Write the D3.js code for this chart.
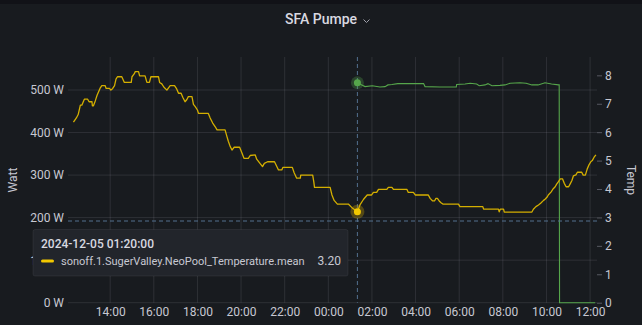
<!DOCTYPE html>
<html>
<head>
<meta charset="utf-8">
<script src="https://cdn.jsdelivr.net/npm/d3@7"></script>
<style>
  html, body { margin: 0; padding: 0; background: #111217; }
  svg { display: block; font-family: Roboto, Inter, "Noto Sans", sans-serif; }
</style>
</head>
<body>
<svg id="chart" width="642" height="325"></svg>
<script>
// Pool temperature (°C, right axis), sampled vertices, 2024-12-04 12:19 → 2024-12-05 12:16
const tempTimes = [
  "12:19","12:27","12:32","12:38","12:42","12:49","12:58","13:02","13:10","13:11","13:14","13:19","13:24","13:32","13:37","13:46","13:49","13:58",
  "14:02","14:07","14:12","14:16","14:20","14:32","14:39","14:58","15:00","15:06","15:09","15:18","15:21","15:36","15:41","15:48","15:52",
  "16:13","16:16","16:22","16:28","16:36","16:40","16:45","16:57","17:03","17:08","17:15","17:20","17:26","17:31","17:35","17:45","17:49","17:54",
  "18:00","18:03","18:30","18:35","18:42","18:49","18:54","19:16","19:21","19:25","19:30","19:35","19:41","19:56",
  "20:00","20:08","20:20","20:25","20:39","20:43","20:52","20:59","21:04","21:13","21:32","21:37","21:43","21:52","21:55",
  "22:21","22:26","22:33","22:43","22:44","23:17","23:20","23:22","00:05","00:10","00:16","00:25","00:55","01:07","01:20",
  "01:27","01:37","01:47","01:59","02:04","02:13","02:18","02:41","02:45","02:55","02:59","03:36","03:40","03:54","03:59",
  "04:35","04:40","04:47","04:52","04:56","05:00","05:05","05:10","05:15","05:58","06:02","07:05","07:07","07:48","07:50","07:53",
  "08:02","08:04","09:20","09:24","09:31","09:38","09:44","09:52","09:56","10:02","10:05","10:13","10:18","10:24","10:28","10:33",
  "10:38","10:44","10:49","10:54","11:01","11:06","11:10","11:14","11:21","11:25","11:37","11:41","11:47","11:52","11:57","12:02","12:06","12:11","12:16"
];
const tempValues = [
  6.35,6.5,6.62,6.95,6.95,7.16,7.16,7.07,7.07,6.93,6.93,7.1,7.3,7.54,7.64,7.64,7.54,7.54,
  7.48,7.54,7.64,7.87,7.95,7.95,7.75,7.75,7.95,8.05,8.13,8.13,7.98,7.98,7.75,7.75,7.95,
  7.95,7.75,7.7,7.58,7.48,7.55,7.64,7.64,7.52,7.37,7.37,7.22,7.07,7.15,7.25,7.25,6.98,6.9,
  6.78,6.66,6.66,6.5,6.32,6.19,6.08,6.08,5.85,5.68,5.5,5.37,5.47,5.47,
  5.35,5.08,5.08,5.18,5.2,5.05,4.9,4.79,4.9,4.96,4.96,4.83,4.67,4.67,4.76,
  4.76,4.57,4.38,4.38,4.49,4.49,4.26,4.06,4.06,3.79,3.6,3.47,3.47,3.32,3.2,
  3.44,3.64,3.79,3.79,3.88,3.88,3.99,3.99,4.06,4.06,3.99,3.99,3.88,3.88,3.79,
  3.79,3.67,3.58,3.58,3.67,3.67,3.58,3.52,3.47,3.47,3.38,3.38,3.29,3.29,3.2,3.29,
  3.29,3.19,3.19,3.29,3.38,3.44,3.5,3.6,3.64,3.72,3.79,3.9,4.0,4.08,4.17,4.26,
  4.36,4.36,4.2,4.08,4.08,4.2,4.3,4.46,4.5,4.59,4.59,4.49,4.49,4.7,4.85,4.96,5.0,5.12,5.2
];

// Pump power (W, left axis), 2024-12-05
const pumpTimes = [
  "01:20","01:32","01:41","02:01","02:22","02:36","02:44","02:55","03:11","03:31","03:59","04:22","04:26","05:07","05:52","05:53",
  "06:16","06:30","06:48","06:55","07:11","07:19","07:30","07:52","08:06","08:20","08:47","09:04","09:20","09:37","09:56","10:14",
  "10:33","10:35","10:36","12:14"
];
const pumpValues = [
  517,512,508,510,507,508,512,513,515,515,515,515,508,507,507,513,
  514,516,514,510,512,515,510,511,512,516,517,516,512,512,517,514,
  512,512,0,0
];

const wattTicks = [0, 100, 200, 300, 400, 500];
const tempTicks = [0, 1, 2, 3, 4, 5, 6, 7, 8];
const hoverTime = "2024-12-05 01:20:00";
const hoverSeries = "sonoff.1.SugerValley.NeoPool_Temperature.mean";
const hoverValue = 3.20;

const parseFull = d3.timeParse("%Y-%m-%d %H:%M");
const parseSec = d3.timeParse("%Y-%m-%d %H:%M:%S");

// Turn clock strings into dates, rolling to the next day when the clock wraps
function toDates(times, startDay) {
  let day = parseFull(startDay + " 00:00");
  let prev = -1;
  return times.map(t => {
    const [h, m] = t.split(":").map(Number);
    const mins = h * 60 + m;
    if (mins < prev) day = d3.timeDay.offset(day, 1);
    prev = mins;
    return new Date(day.getTime() + mins * 60000);
  });
}

const tempData = toDates(tempTimes, "2024-12-04").map((d, i) => ({ t: d, v: tempValues[i] }));
const pumpData = toDates(pumpTimes, "2024-12-05").map((d, i) => ({ t: d, v: pumpValues[i] }));

const svg = d3.select("#chart");
const W = 642, H = 325;
const plot = { left: 68, right: 597, top: 57, bottom: 302.7 };
const FONT = "Roboto";

// panel background
svg.append("rect").attr("x", 0).attr("y", 0).attr("width", W).attr("height", H).attr("fill", "#111217");
svg.append("rect").attr("x", 0).attr("y", 4).attr("width", W).attr("height", H - 4).attr("fill", "#181b1f");

const x = d3.scaleTime()
  .domain([parseFull("2024-12-04 12:04"), parseFull("2024-12-05 12:19")])
  .range([plot.left, plot.right]);
const yW = d3.scaleLinear().domain([0, 577.6]).range([plot.bottom, plot.top]);
const yT = d3.scaleLinear().domain([0, 8.645]).range([plot.bottom, plot.top]);

const gridColor = "rgba(204,204,220,0.12)";
const textColor = "#c7c8d2";

// grid
const xTicks = d3.timeHour.every(2).range(parseFull("2024-12-04 14:00"), parseFull("2024-12-05 12:01"));
svg.append("g").selectAll("line").data(xTicks).join("line")
  .attr("x1", d => x(d)).attr("x2", d => x(d))
  .attr("y1", plot.top).attr("y2", plot.bottom)
  .attr("stroke", gridColor).attr("stroke-width", 1);
svg.append("g").selectAll("line").data(wattTicks).join("line")
  .attr("x1", plot.left).attr("x2", plot.right)
  .attr("y1", d => yW(d)).attr("y2", d => yW(d))
  .attr("stroke", gridColor).attr("stroke-width", 1);

function styleText(sel) {
  sel.attr("fill", textColor).style("font-size", "12px").style("font-family", FONT);
}

// left axis (Watt)
const leftAxis = svg.append("g").attr("transform", `translate(${plot.left},0)`)
  .call(d3.axisLeft(yW).tickValues(wattTicks).tickFormat(d => d + " W").tickSize(0).tickPadding(4));
leftAxis.select(".domain").remove();
leftAxis.selectAll("text").call(styleText);

// right axis (Temp)
const rightAxis = svg.append("g").attr("transform", `translate(${plot.right},0)`)
  .call(d3.axisRight(yT).tickValues(tempTicks).tickFormat(d3.format("d")).tickSize(5).tickPadding(3));
rightAxis.select(".domain").remove();
rightAxis.selectAll("line").attr("stroke", "rgba(204,204,220,0.35)");
rightAxis.selectAll("text").call(styleText);

// time axis
const bottomAxis = svg.append("g").attr("transform", `translate(0,${plot.bottom})`)
  .call(d3.axisBottom(x).tickValues(xTicks).tickFormat(d3.timeFormat("%H:%M")).tickSize(0).tickPadding(5));
bottomAxis.select(".domain").remove();
bottomAxis.selectAll("text").call(styleText);

// axis titles
svg.append("text").attr("transform", `translate(17,180) rotate(-90)`)
  .attr("text-anchor", "middle").call(styleText).text("Watt");
svg.append("text").attr("transform", `translate(627,180) rotate(90)`)
  .attr("text-anchor", "middle").call(styleText).text("Temp");

// title with dropdown chevron
const title = svg.append("text").attr("x", 321).attr("y", 24).attr("text-anchor", "middle")
  .attr("fill", "#d8d9e0").style("font-size", "14px").style("font-weight", 500)
  .style("font-family", FONT).text("SFA Pumpe");
const tb = title.node().getBBox();
const cx0 = tb.x + tb.width + 6;
svg.append("path").attr("d", `M${cx0},19.5 L${cx0 + 3},22.5 L${cx0 + 6},19.5`)
  .attr("fill", "none").attr("stroke", "#9fa0aa").attr("stroke-width", 1);

// series
const tempLine = d3.line().x(d => x(d.t)).y(d => yT(d.v));
const pumpLine = d3.line().x(d => x(d.t)).y(d => yW(d.v));

svg.append("path").datum(pumpData).attr("d", pumpLine)
  .attr("fill", "none").attr("stroke", "#56a64b").attr("stroke-width", 1.1);
svg.append("path").datum(tempData).attr("d", tempLine)
  .attr("fill", "none").attr("stroke", "#d4af00").attr("stroke-width", 1.3)
  .attr("stroke-linejoin", "round");

// crosshair
const hoverDate = parseSec(hoverTime);
const hx = x(hoverDate);
svg.append("line").attr("x1", hx).attr("x2", hx).attr("y1", plot.top).attr("y2", plot.bottom)
  .attr("stroke", "#53708f").attr("stroke-width", 1).attr("stroke-dasharray", "4,3");
svg.append("line").attr("x1", plot.left).attr("x2", plot.right).attr("y1", 221).attr("y2", 221)
  .attr("stroke", "#53708f").attr("stroke-width", 1).attr("stroke-dasharray", "4,3");

// hover markers
const pumpAt = pumpData.find(d => +d.t === +hoverDate);
svg.append("circle").attr("cx", hx).attr("cy", yW(pumpAt.v)).attr("r", 6.5).attr("fill", "#56a64b").attr("opacity", 0.3);
svg.append("circle").attr("cx", hx).attr("cy", yW(pumpAt.v)).attr("r", 3.5).attr("fill", "#56a64b");
svg.append("circle").attr("cx", hx).attr("cy", yT(hoverValue)).attr("r", 7).attr("fill", "#e0b400").attr("opacity", 0.3);
svg.append("circle").attr("cx", hx).attr("cy", yT(hoverValue)).attr("r", 3.5).attr("fill", "#f2c800");

// tooltip
const tip = svg.append("g");
tip.append("rect").attr("x", 33).attr("y", 229.5).attr("width", 315).attr("height", 46.5)
  .attr("rx", 2).attr("fill", "#22252b").attr("stroke", "rgba(204,204,220,0.08)");
tip.append("text").attr("x", 41).attr("y", 248).attr("fill", "#d8d9e0")
  .style("font-size", "12px").style("font-weight", 500).style("font-family", FONT).text(hoverTime);
tip.append("rect").attr("x", 41).attr("y", 259.5).attr("width", 13).attr("height", 3).attr("rx", 1.5).attr("fill", "#f2c800");
const seriesLabel = tip.append("text").attr("x", 61).attr("y", 265).call(styleText).text(hoverSeries);
// keep the series name within its slot before the value column
const maxLen = 244;
const len = seriesLabel.node().getComputedTextLength();
if (len > maxLen) seriesLabel.style("font-size", (12 * maxLen / len).toFixed(2) + "px");
tip.append("text").attr("x", 341).attr("y", 265).attr("text-anchor", "end").call(styleText)
  .text(hoverValue.toFixed(2));
</script>
</body>
</html>
